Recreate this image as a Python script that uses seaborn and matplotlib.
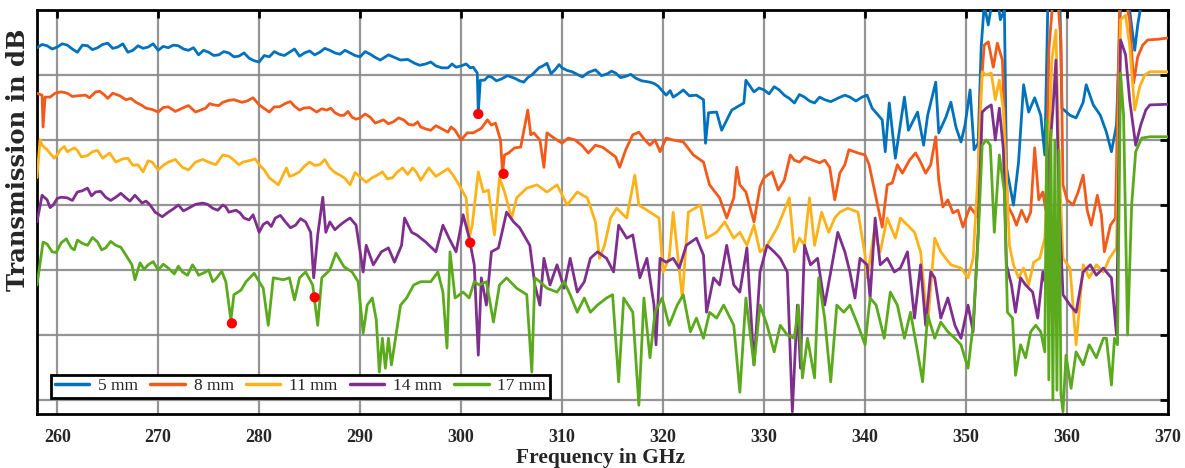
import numpy as np
import pandas as pd
import matplotlib
matplotlib.use("Agg")
import matplotlib.pyplot as plt
import seaborn as sns

# ---------------- data (dB, arbitrary reference) -------------
labels = ["5 mm", "8 mm", "11 mm", "14 mm", "17 mm"]
colors = ["#0072BD", "#F25A1B", "#FDB219", "#7E2F8E", "#5BAA1E"]

f_5mm = [258.0, 259.0, 260.0, 261.0, 262.0, 263.0, 264.0, 265.0, 266.0, 267.0, 268.0, 269.0, 270.0,
         271.0, 272.0, 273.0, 274.0, 275.0, 276.0, 277.0, 278.0, 279.0, 280.0, 281.0, 282.0, 283.0,
         284.0, 285.0, 286.0, 287.0, 288.0, 289.0, 290.0, 291.0, 292.0, 292.8, 294.0, 295.4, 296.5,
         297.5, 298.7, 299.5, 300.5, 301.2, 301.6, 301.7, 301.9, 302.3, 303.0, 304.0, 305.3, 306.2,
         307.0, 307.7, 308.5, 309.3, 310.0, 311.0, 312.0, 313.3, 314.5, 315.3, 316.3, 317.3, 318.7,
         319.5, 320.3, 321.0, 322.0, 323.3, 324.0, 324.2, 324.5, 325.3, 325.8, 326.8, 328.0, 328.2,
         329.0, 330.0, 331.0, 332.0, 333.0, 334.0, 335.0, 336.0, 337.4, 338.5, 339.7, 340.2, 340.7,
         341.7, 342.0, 342.4, 343.0, 343.9, 344.3, 345.2, 345.8, 346.2, 347.0, 347.3, 348.0, 348.5,
         349.0, 349.5, 349.9, 350.4, 350.8, 351.2, 351.5, 351.8, 352.2, 352.6, 353.0, 353.4, 353.8,
         354.0, 354.7, 355.2, 355.7, 356.2, 356.8, 357.4, 357.8, 358.1, 358.5, 358.9, 359.3, 359.5,
         360.3, 360.9, 361.6, 361.9, 362.6, 363.3, 363.9, 364.4, 364.9, 365.3, 365.8, 366.2, 366.7,
         367.0, 367.5, 368.0, 370.0,
         # finer ripple
         258.5, 259.5, 260.5, 261.5, 262.5, 263.5, 264.5, 265.5, 266.5, 267.5, 268.5, 269.5, 270.5,
         271.5, 272.5, 273.5, 274.5, 275.5, 276.5, 277.5, 278.5, 279.5, 280.5, 281.5, 282.5, 283.5,
         284.5, 285.5, 286.5, 287.5, 288.5, 289.5, 290.5, 291.5, 293.4, 294.7, 295.9, 297.0, 298.1,
         299.1, 300.0, 300.9, 302.7, 303.5, 304.6, 305.8, 306.6, 308.1, 308.9, 309.7, 310.5, 311.5,
         312.6, 313.9, 314.9, 315.8, 316.8, 317.9, 319.1, 320.7, 321.5, 322.6, 329.5, 330.5, 331.5,
         332.5, 333.5, 334.5, 335.5, 336.6, 338.0, 339.1]
t_5mm = [-5.8, -5.5, -5.7, -5.4, -6.5, -5.5, -5.8, -5.1, -5.7, -6.5, -5.5, -5.7, -6.2,
         -5.8, -5.5, -6.2, -6.9, -6.5, -6.9, -6.6, -7.1, -7.4, -8.0, -7.2, -6.8, -6.5,
         -7.1, -6.3, -6.5, -6.2, -6.8, -6.6, -7.2, -6.8, -7.7, -6.9, -7.7, -8.2, -8.3,
         -8.6, -8.9, -8.8, -8.3, -8.8, -9.7, -15.8, -10.8, -10.8, -10.3, -10.6, -10.5, -11.1,
         -10.0, -8.9, -8.2, -9.2, -8.9, -9.5, -10.3, -9.2, -9.8, -9.7, -10.2, -10.5, -11.1,
         -11.7, -13.1, -13.4, -12.3, -13.1, -13.8, -20.5, -15.8, -15.7, -18.5, -15.4, -14.3, -10.8,
         -12.6, -12.3, -11.8, -13.1, -14.3, -13.4, -14.3, -13.8, -13.5, -13.4, -13.4, -13.1, -15.1,
         -16.9, -21.8, -14.3, -22.8, -13.4, -18.5, -15.7, -20.8, -16.2, -11.1, -18.9, -16.5, -14.2,
         -18.0, -20.3, -17.7, -12.3, -21.5, -20.5, -5.7, 0.8, -2.3, 1.5, 3.1, -1.5, 0.0,
         -24.2, -30.0, -23.4, -11.5, -15.7, -13.5, -16.2, -22.3, 0.8, 4.6, 3.1, 0.8, -15.1,
         -16.2, -16.6, -14.2, -11.5, -14.6, -16.2, -18.8, -21.8, -17.7, 0.8, 2.3, 0.0, -6.2,
         -2.3, 2.3, 4.6, 4.6,
         -5.3, -6.0, -5.2, -6.0, -5.4, -6.1, -5.3, -5.9, -5.2, -6.2, -5.9, -5.2, -5.6,
         -5.4, -6.0, -5.8, -6.2, -7.0, -6.4, -7.2, -6.6, -7.8, -7.0, -6.4, -7.0, -6.0,
         -6.6, -6.9, -5.9, -6.6, -6.2, -7.0, -6.4, -7.3, -7.3, -7.6, -8.5, -8.0, -8.9,
         -8.3, -8.6, -8.9, -10.2, -10.9, -10.1, -10.9, -10.4, -8.6, -9.8, -8.4, -9.3, -9.9,
         -9.6, -10.1, -9.4, -10.4, -9.9, -10.9, -11.3, -12.4, -12.9, -13.2, -12.0, -12.9, -12.3,
         -13.6, -13.0, -14.0, -13.4, -14.1, -13.1, -14.0]

f_8mm = [258.0, 258.5, 258.6, 258.8, 259.8, 261.0, 262.0, 262.8, 263.8, 264.7, 265.5, 266.2, 266.8,
         267.8, 268.8, 270.0, 271.0, 272.4, 273.7, 274.7, 275.5, 276.4, 277.5, 278.3, 279.4, 280.0,
         281.0, 282.0, 282.7, 283.5, 284.4, 285.7, 286.7, 287.5, 288.4, 289.2, 290.0, 291.0, 291.5,
         292.3, 293.3, 294.3, 295.3, 296.0, 297.0, 298.0, 298.7, 299.4, 300.0, 300.6, 301.2, 302.0,
         302.6, 303.0, 303.4, 303.9, 304.1, 304.3, 304.7, 305.3, 305.9, 306.6, 306.9, 307.2, 307.8,
         308.2, 308.5, 309.2, 310.0, 310.6, 311.3, 312.0, 312.6, 313.3, 314.0, 314.6, 315.3, 315.7,
         316.3, 317.0, 317.6, 318.2, 318.7, 319.2, 319.7, 320.3, 321.0, 322.0, 323.0, 324.0, 324.6,
         325.6, 326.3, 327.0, 327.3, 327.6, 328.2, 329.0, 329.6, 330.0, 330.8, 331.4, 332.0, 332.6,
         333.0, 333.5, 334.0, 334.8, 335.5, 336.0, 336.5, 337.0, 337.5, 338.0, 338.4, 339.3, 340.0,
         340.4, 341.0, 341.7, 342.2, 342.7, 343.2, 343.7, 344.4, 345.0, 345.5, 346.0, 346.5, 347.0,
         347.3, 347.7, 348.2, 348.7, 349.2, 349.7, 350.1, 350.4, 350.8, 351.1, 351.4, 351.8, 352.2,
         352.7, 353.1, 353.6, 354.1, 354.6, 355.0, 355.5, 356.0, 356.4, 356.8, 357.2, 357.6, 357.9,
         358.2, 358.6, 359.0, 359.4, 359.6, 360.0, 360.6, 361.1, 361.6, 362.0, 362.4, 363.0, 363.4,
         363.7, 364.3, 364.8, 365.2, 365.8, 366.2, 366.6, 367.0, 367.5, 368.0, 369.0, 370.0,
         # finer ripple
         259.3, 260.4, 261.5, 263.2, 264.2, 265.0, 267.3, 268.3, 269.4, 270.5, 271.7, 273.0, 274.2,
         275.1, 276.0, 277.0, 278.8, 281.5, 283.1, 284.0, 285.0, 286.2, 287.1, 288.0, 288.8, 289.6,
         290.5, 292.8, 293.8, 294.8, 295.7, 296.5, 297.5, 299.0]
t_8mm = [-12.8, -13.1, -18.0, -13.4, -12.8, -12.8, -13.2, -13.1, -12.6, -13.1, -12.8, -13.2, -13.8,
         -14.2, -15.1, -15.7, -14.9, -15.1, -15.7, -15.1, -14.6, -14.2, -13.8, -14.2, -13.5, -14.6,
         -15.7, -14.9, -14.3, -14.8, -15.1, -15.7, -15.4, -15.8, -16.2, -16.5, -16.6, -16.5, -17.4,
         -16.9, -17.2, -16.9, -17.7, -18.0, -18.5, -18.2, -18.8, -18.5, -20.0, -18.9, -18.9, -18.2,
         -16.9, -17.7, -17.4, -20.0, -25.1, -22.3, -22.0, -21.2, -21.1, -15.4, -19.2, -18.9, -20.0,
         -24.2, -18.9, -19.7, -20.5, -19.7, -20.0, -20.9, -22.0, -20.8, -21.1, -21.8, -22.6, -24.2,
         -21.5, -19.2, -18.8, -20.0, -20.8, -20.0, -21.8, -19.7, -20.0, -20.3, -22.3, -23.4, -26.9,
         -28.9, -32.0, -28.9, -24.2, -26.9, -28.0, -32.6, -27.2, -25.8, -24.9, -27.7, -26.2, -22.3,
         -23.1, -23.4, -22.6, -23.1, -23.5, -23.1, -24.2, -29.2, -25.1, -23.8, -21.5, -22.0, -22.3,
         -23.8, -28.2, -33.4, -26.9, -26.6, -23.8, -25.1, -23.1, -22.0, -23.4, -25.1, -23.8, -19.5,
         -26.2, -30.3, -29.2, -31.2, -30.8, -33.4, -31.5, -30.3, -31.1, -31.8, -13.8, -5.4, -4.9,
         -8.8, -5.1, -7.7, -30.0, -31.5, -33.1, -30.8, -32.6, -31.1, -21.2, -29.2, -28.0, -30.8,
         -6.2, 1.5, 3.1, -4.6, -26.9, -29.2, -30.0, -28.0, -25.4, -30.8, -33.1, -28.5, -31.5,
         -37.2, -33.1, -32.0, 0.0, 1.5, -1.5, -11.2, -7.2, -5.4, -4.6, -4.5, -4.3,
         -13.4, -12.6, -13.3, -13.5, -12.5, -13.6, -13.6, -14.6, -15.3, -15.0, -15.6, -14.7, -15.4,
         -14.4, -14.7, -13.9, -14.0, -14.9, -14.1, -15.4, -15.0, -15.2, -15.1, -16.2, -15.6, -16.8,
         -16.0, -17.5, -16.6, -17.6, -17.2, -18.3, -17.8, -18.0]

f_11mm = [258.0, 258.5, 259.0, 259.7, 260.3, 261.0, 261.7, 262.4, 263.5, 264.5, 265.2, 265.8, 267.0,
          268.0, 268.5, 269.4, 270.0, 271.0, 272.4, 273.7, 275.0, 276.4, 277.5, 278.4, 279.2, 280.0,
          281.0, 281.9, 282.7, 283.4, 284.0, 285.0, 286.0, 287.0, 288.0, 289.0, 290.0, 291.2, 292.2,
          293.2, 294.2, 295.2, 296.0, 296.8, 298.2, 299.2, 299.8, 300.5, 300.8, 301.1, 301.7, 302.2,
          302.7, 303.3, 303.8, 304.3, 305.0, 305.5, 306.5, 307.5, 308.5, 309.5, 310.5, 311.5, 312.5,
          313.3, 313.7, 314.2, 314.8, 315.4, 316.4, 317.2, 317.6, 318.7, 319.6, 320.0, 320.6, 321.0,
          321.9, 322.5, 323.7, 324.3, 325.3, 326.1, 327.0, 327.6, 328.3, 329.0, 329.6, 330.3, 331.3,
          332.5, 333.0, 333.5, 334.0, 334.5, 335.0, 335.7, 336.4, 337.0, 337.5, 338.3, 339.3, 340.0,
          340.2, 340.9, 341.5, 342.2, 343.0, 343.5, 344.2, 344.9, 345.5, 346.2, 346.9, 347.5, 348.5,
          349.5, 350.2, 350.7, 351.2, 351.6, 352.0, 352.5, 352.9, 353.3, 353.7, 354.3, 354.7, 355.2,
          355.7, 356.2, 356.7, 357.3, 357.8, 358.2, 358.5, 358.9, 359.2, 359.6, 360.3, 360.9, 361.6,
          362.2, 362.9, 363.6, 364.2, 364.9, 365.3, 365.8, 366.2, 366.7, 367.2, 367.7, 368.2, 370.0,
          # finer ripple
          258.3, 260.0, 260.7, 262.0, 263.0, 264.0, 266.5, 267.5, 269.0, 270.5, 271.7, 273.0, 274.4,
          275.7, 277.0, 278.0, 279.6, 280.5, 283.0, 284.5, 285.5, 286.5, 287.5, 288.5, 289.5, 290.6,
          291.7, 292.7, 293.7, 294.7, 295.6, 297.5, 298.7]
t_11mm = [-25.8, -20.8, -21.5, -22.8, -21.5, -21.8, -21.2, -22.6, -21.8, -22.8, -22.0, -23.4, -22.8,
          -23.8, -24.9, -23.4, -24.6, -23.4, -24.2, -23.4, -23.4, -22.3, -23.1, -23.4, -23.1, -23.8,
          -25.8, -26.9, -24.3, -25.4, -24.9, -23.4, -23.8, -24.3, -25.4, -26.9, -25.7, -25.8, -24.9,
          -25.8, -24.3, -24.3, -26.2, -24.3, -24.9, -25.4, -26.9, -28.9, -35.1, -33.1, -24.9, -28.0,
          -27.7, -34.6, -25.8, -28.0, -32.0, -28.9, -27.4, -26.9, -28.0, -26.9, -30.0, -28.0, -28.9,
          -32.6, -38.2, -36.2, -32.0, -30.5, -32.0, -25.4, -30.0, -31.1, -32.0, -40.3, -38.2, -31.1,
          -44.3, -31.1, -30.0, -35.1, -34.2, -32.6, -35.1, -34.2, -36.2, -33.1, -37.2, -36.2, -33.5,
          -28.9, -37.2, -35.1, -36.2, -28.9, -36.2, -31.1, -34.2, -32.0, -31.1, -30.5, -31.1, -37.7,
          -41.2, -34.2, -37.2, -32.0, -35.1, -32.0, -33.1, -34.2, -37.2, -48.5, -35.1, -37.2, -39.2,
          -39.7, -41.2, -38.2, -24.9, -9.5, -10.0, -9.7, -13.8, -10.8, -15.4, -36.2, -39.2, -41.2,
          -39.7, -42.3, -38.8, -38.2, -35.1, -21.5, -7.7, -3.1, -22.6, -38.2, -39.7, -51.5, -39.2,
          -41.2, -39.2, -40.3, -38.2, -36.6, -1.5, -0.8, -5.4, -15.4, -11.8, -10.0, -9.5, -9.5,
          -20.0, -22.3, -21.0, -21.6, -22.4, -21.6, -22.9, -23.9, -23.2, -23.9, -23.0, -24.6, -23.0,
          -23.8, -22.5, -23.8, -22.9, -24.6, -25.6, -24.0, -23.9, -23.0, -25.0, -25.9, -25.0, -26.5,
          -25.4, -26.0, -24.9, -25.3, -25.0, -25.6, -24.4]

f_14mm = [258.0, 258.5, 259.0, 259.6, 260.4, 261.0, 262.0, 263.0, 263.8, 264.8, 265.8, 266.8, 267.7,
          268.4, 269.2, 269.7, 270.4, 271.0, 272.0, 273.0, 274.4, 275.4, 276.4, 277.0, 277.7, 278.5,
          279.4, 280.0, 280.8, 281.6, 282.6, 283.6, 284.6, 285.1, 285.4, 285.8, 286.3, 286.6, 287.0,
          288.0, 289.0, 289.6, 290.0, 290.3, 290.6, 291.3, 292.1, 292.8, 293.4, 294.1, 294.4, 295.1,
          295.6, 296.5, 297.5, 298.2, 298.8, 299.5, 300.2, 300.8, 301.3, 301.7, 302.0, 302.5, 303.0,
          303.7, 304.5, 305.2, 305.8, 306.8, 307.3, 307.8, 308.2, 308.8, 309.5, 310.2, 310.8, 311.5,
          312.2, 312.8, 313.5, 314.4, 315.1, 315.6, 316.4, 317.0, 317.7, 318.4, 319.1, 319.3, 319.7,
          320.3, 321.0, 321.6, 322.3, 323.3, 324.0, 324.3, 325.0, 325.6, 326.3, 327.0, 327.6, 328.3,
          329.0, 329.6, 330.3, 331.0, 331.6, 332.3, 332.8, 333.3, 333.6, 334.0, 334.6, 335.3, 336.0,
          336.6, 337.3, 338.0, 338.5, 339.0, 339.5, 340.2, 340.5, 341.0, 341.5, 342.2, 342.9, 343.5,
          344.2, 344.9, 345.5, 346.0, 346.5, 346.9, 347.5, 348.2, 348.9, 349.5, 350.2, 350.7, 351.2,
          351.6, 352.0, 352.5, 352.9, 353.3, 353.7, 354.0, 354.5, 354.9, 355.4, 355.9, 356.6, 357.1,
          357.6, 357.9, 358.2, 358.6, 358.9, 359.2, 359.6, 360.3, 360.9, 361.6, 362.3, 362.9, 363.6,
          363.9, 364.4, 364.9, 365.3, 365.8, 366.2, 366.8, 367.3, 367.8, 368.2, 370.0,
          # finer ripple
          259.3, 260.0, 261.5, 262.5, 263.4, 264.3, 265.3, 266.3, 267.2, 268.8, 271.5, 272.5, 273.7,
          274.9, 275.9, 276.7, 278.1, 279.0, 280.4, 281.2, 282.1, 283.1, 284.1, 287.5, 288.5]
t_14mm = [-32.6, -28.5, -29.2, -30.0, -28.8, -28.9, -28.0, -27.4, -28.0, -28.8, -28.8, -28.9, -28.5,
          -29.7, -30.0, -31.1, -31.8, -31.1, -30.0, -30.5, -29.7, -30.5, -30.0, -31.1, -30.8, -32.0,
          -31.5, -34.2, -32.6, -32.0, -32.6, -33.1, -32.6, -34.2, -41.2, -34.6, -28.8, -34.2, -32.6,
          -33.1, -32.0, -33.1, -37.2, -40.3, -36.2, -39.2, -37.2, -36.6, -38.8, -36.2, -32.0, -34.2,
          -34.6, -35.7, -37.2, -33.1, -35.1, -37.2, -31.5, -35.1, -39.2, -53.1, -41.2, -45.4, -37.2,
          -36.6, -31.1, -32.6, -33.5, -36.2, -42.3, -45.4, -38.2, -42.3, -39.2, -42.8, -38.2, -43.4,
          -41.8, -38.2, -37.2, -38.2, -40.3, -33.1, -35.1, -34.6, -41.2, -38.2, -45.4, -51.5, -38.2,
          -38.8, -38.2, -39.7, -36.2, -35.1, -37.7, -46.5, -41.2, -42.3, -36.2, -42.3, -43.4, -36.6,
          -54.6, -40.3, -36.2, -37.2, -38.2, -40.3, -61.8, -45.4, -55.1, -36.2, -39.2, -38.2, -45.4,
          -40.3, -34.2, -37.2, -40.3, -44.3, -38.2, -39.2, -44.3, -32.0, -39.2, -38.2, -40.3, -39.7,
          -37.2, -47.4, -39.2, -48.5, -40.3, -41.2, -47.4, -44.3, -48.5, -50.5, -45.4, -49.5, -34.2,
          -15.7, -15.1, -14.6, -20.0, -15.1, -21.5, -39.2, -42.3, -46.5, -41.2, -42.3, -43.4, -47.4,
          -40.3, -42.3, -23.1, -15.4, -7.7, -29.2, -43.8, -45.4, -46.5, -40.3, -39.2, -40.8, -39.7,
          -40.3, -41.2, -50.0, -4.6, -6.9, -13.8, -20.8, -17.7, -15.4, -14.6, -14.5,
          -30.4, -29.0, -29.3, -27.8, -28.6, -27.9, -29.3, -28.2, -29.4, -29.4, -30.6, -30.9, -29.9,
          -29.9, -30.8, -30.3, -31.2, -32.3, -33.0, -33.3, -31.6, -33.5, -32.1, -33.8, -32.5]

f_17mm = [258.0, 258.6, 259.5, 260.4, 261.4, 262.0, 263.0, 264.0, 264.8, 265.8, 266.8, 267.4, 267.7,
          268.2, 269.0, 270.0, 271.0, 272.4, 273.4, 274.0, 274.7, 275.4, 276.0, 276.7, 277.2, 277.5,
          278.2, 278.7, 279.5, 280.4, 280.9, 281.4, 282.4, 283.0, 283.5, 284.0, 284.6, 285.3, 285.8,
          286.2, 287.0, 287.6, 288.4, 289.2, 289.8, 290.3, 290.7, 291.2, 291.6, 291.9, 292.2, 292.5,
          292.8, 293.1, 294.0, 294.6, 295.3, 296.0, 297.0, 297.7, 298.2, 298.6, 298.9, 299.4, 300.2,
          300.8, 301.3, 301.8, 302.5, 303.2, 303.8, 304.5, 305.5, 306.5, 307.0, 307.3, 307.8, 308.5,
          309.5, 310.2, 310.8, 311.5, 312.2, 312.8, 313.5, 314.4, 315.0, 315.6, 316.1, 317.0, 317.6,
          318.1, 318.7, 319.2, 319.9, 320.6, 321.4, 322.0, 322.7, 323.3, 324.0, 324.6, 325.3, 326.0,
          327.0, 327.6, 328.2, 329.0, 329.6, 330.3, 331.0, 331.6, 332.3, 333.0, 333.4, 333.8, 334.3,
          335.0, 335.4, 336.0, 336.6, 337.2, 337.9, 338.5, 339.3, 340.0, 340.5, 341.1, 341.9, 342.5,
          343.2, 343.9, 344.5, 345.2, 345.7, 346.2, 346.9, 347.5, 348.2, 348.9, 349.5, 350.2, 350.7,
          351.2, 351.6, 352.0, 352.4, 352.8, 353.3, 353.8, 354.1, 354.6, 354.9, 355.4, 355.9, 356.4,
          356.9, 357.4, 357.8, 358.0, 358.2, 358.4, 358.6, 358.8, 359.0, 359.2, 359.4, 359.6, 359.9,
          360.4, 360.9, 361.6, 362.2, 362.9, 363.6, 363.9, 364.4, 364.7, 365.0, 365.3, 365.6, 366.0,
          366.4, 366.8, 367.4, 368.2, 370.0,
          # finer ripple
          259.0, 259.9, 260.9, 261.7, 262.5, 263.5, 264.4, 265.3, 266.3, 268.6, 269.5, 270.5, 271.6,
          272.0, 272.9, 273.7, 275.0, 275.7, 276.3]
t_17mm = [-42.3, -35.7, -37.2, -35.8, -36.6, -35.4, -36.2, -35.7, -36.6, -36.2, -37.7, -39.2, -41.5,
          -38.9, -39.2, -40.0, -39.7, -40.3, -39.2, -40.8, -40.3, -41.8, -40.8, -41.8, -47.7, -43.8,
          -43.1, -41.8, -40.5, -42.8, -48.5, -41.2, -41.5, -41.2, -44.6, -41.2, -40.3, -42.3, -48.5,
          -41.2, -40.0, -37.4, -39.5, -40.3, -41.8, -49.7, -45.4, -44.3, -47.7, -55.7, -50.5, -55.1,
          -50.5, -54.6, -45.4, -44.3, -42.3, -41.8, -41.8, -40.3, -43.4, -52.0, -37.2, -44.3, -43.4,
          -44.3, -41.8, -42.3, -41.8, -48.0, -42.3, -41.2, -42.8, -43.8, -55.7, -41.2, -41.8, -42.8,
          -43.4, -41.8, -43.8, -46.5, -44.3, -46.5, -45.4, -44.3, -43.8, -57.2, -44.3, -46.5, -60.8,
          -44.3, -53.5, -46.5, -44.3, -48.5, -45.4, -43.8, -49.5, -47.4, -50.5, -46.5, -47.4, -45.4,
          -48.5, -58.8, -44.3, -54.6, -45.4, -48.5, -52.6, -48.5, -50.0, -50.5, -45.4, -56.6, -50.5,
          -56.6, -41.2, -47.4, -57.2, -45.4, -46.5, -45.4, -48.5, -51.5, -44.3, -45.4, -50.5, -43.4,
          -45.4, -50.5, -46.5, -52.6, -57.2, -46.9, -50.5, -48.0, -49.5, -50.5, -51.5, -55.1, -48.5,
          -35.1, -20.8, -20.0, -20.8, -34.2, -22.3, -28.0, -46.5, -47.4, -56.2, -51.5, -53.5, -49.5,
          -48.5, -49.5, -52.6, -16.9, -56.9, -18.5, -60.0, -20.0, -58.5, -21.5, -59.2, -61.8, -53.1,
          -58.2, -52.6, -54.6, -51.5, -53.5, -50.5, -50.5, -57.7, -50.5, -51.5, -9.7, -16.2, -50.0,
          -30.0, -21.8, -19.7, -19.5, -19.5,
          -36.0, -37.3, -35.2, -36.9, -35.9, -35.0, -36.9, -35.6, -36.5, -39.9, -38.7, -39.1, -40.6,
          -39.4, -40.8, -39.9, -40.0, -41.4, -40.2]

marker_f = [301.7, 304.2, 300.9, 285.5, 277.3]
marker_t = [-16.0, -25.2, -35.8, -44.2, -48.2]

x_ticks = [260, 270, 280, 290, 300, 310, 320, 330, 340, 350, 360, 370]
y_grid = [0, -10, -20, -30, -40, -50, -60]

# ---------------- figure ----------------
sns.set_style("white")
plt.rcParams["font.family"] = ["Liberation Serif", "DejaVu Serif"]

fig = plt.figure(figsize=(11.85, 4.68), dpi=100)
ax = fig.add_axes([37 / 1185, 1 - 414 / 468, (1168 - 37) / 1185, (414 - 10) / 468])

series = [(f_5mm, t_5mm), (f_8mm, t_8mm), (f_11mm, t_11mm), (f_14mm, t_14mm), (f_17mm, t_17mm)]
for (fx, ty), lab, col in zip(series, labels, colors):
    df = pd.DataFrame({"f": fx, "t": ty}).sort_values("f")
    sns.lineplot(data=df, x="f", y="t", ax=ax, color=col, lw=2.0, label=lab,
                 estimator=None, sort=False, zorder=3)

sns.scatterplot(x=marker_f, y=marker_t, ax=ax, color="#FF0000", s=55, edgecolor="none",
                zorder=5, legend=False)

ax.set_xlim(258, 370)
ax.set_ylim(-62.15, 0)
ax.set_xticks(x_ticks)
ax.set_xticklabels([str(v) for v in x_ticks], fontweight="bold", fontsize=13)
ax.set_yticks(y_grid)
ax.set_yticklabels([""] * len(y_grid))
ax.grid(True, color="#8a8a8a", lw=1.6, alpha=0.9, zorder=0)
ax.set_axisbelow(True)
ax.tick_params(axis="both", direction="in", length=6, width=2.0, color="black",
               top=True, right=True, pad=11)
for sp in ax.spines.values():
    sp.set_visible(True)
    sp.set_color("black")
    sp.set_linewidth(2.0)

ax.set_xlabel("Frequency in GHz", fontsize=15.5, fontweight="bold")
ax.xaxis.set_label_coords(0.498, -0.085)
ax.set_ylabel("Transmission in dB", fontsize=17.5, fontweight="bold",
              family=["DejaVu Serif"])
ax.yaxis.set_label_coords(-0.006, 0.63)

leg = ax.legend(loc="lower left", bbox_to_anchor=(0.0125, 0.04), ncol=5, frameon=True,
                fancybox=False, edgecolor="black", framealpha=1, fontsize=12.5,
                handlelength=2.0, columnspacing=0.7, handletextpad=0.5,
                borderpad=0.2, borderaxespad=0)
leg.get_frame().set_linewidth(2.0)
for h in leg.get_lines():
    h.set_linewidth(2.5)

fig.savefig("out.png", dpi=100)
